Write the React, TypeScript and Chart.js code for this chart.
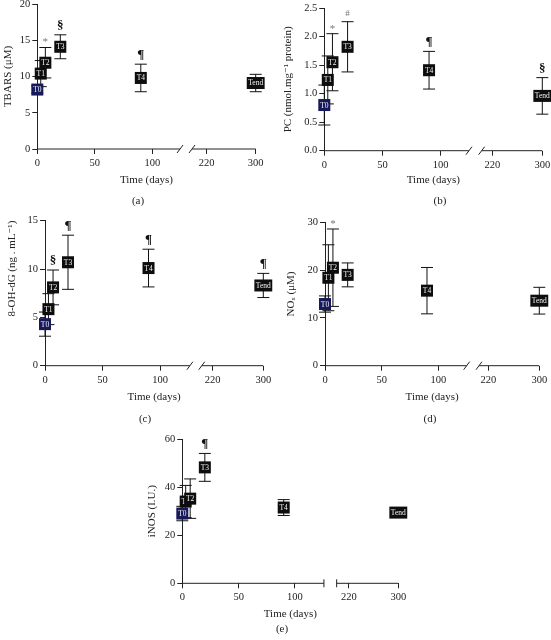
import React, { useEffect, useRef } from 'react';
import { Chart, registerables } from 'chart.js';

Chart.register(...registerables);

const timepoints = ['T0', 'T1', 'T2', 'T3', 'T4', 'Tend'];
const days = [0, 3, 7, 20, 90, 300];
const xTickDays = [0, 50, 100, 220, 300];
const xTickLabels = ['0', '50', '100', '220', '300'];

const tbarsMean = [8.2, 10.4, 11.9, 14.1, 9.8, 9.1];
const tbarsErr = [0.5, 1.8, 2.1, 1.65, 1.9, 1.2];
const tbarsMarks = ['', '', '*', '§', '¶', ''];

const pcMean = [0.8, 1.24, 1.55, 1.82, 1.41, 0.96];
const pcErr = [0.35, 0.42, 0.5, 0.44, 0.33, 0.32];
const pcMarks = ['', '', '*', '#', '¶', '§'];

const ohdgMean = [4.3, 5.85, 8.1, 10.7, 10.1, 8.3];
const ohdgErr = [1.25, 1.6, 1.8, 2.8, 1.95, 1.25];
const ohdgMarks = ['', '', '§', '¶', '¶', '¶'];

const noxMean = [12.9, 18.4, 20.5, 19.0, 15.7, 13.6];
const noxErr = [1.7, 6.9, 8.1, 2.5, 4.85, 2.8];
const noxMarks = ['', '', '*', '', '', ''];

const inosMean = [29.0, 34.0, 35.2, 48.2, 31.5, 29.4];
const inosErr = [3.0, 6.7, 8.2, 5.8, 3.3, 1.0];
const inosMarks = ['', '', '', '¶', '', ''];

const FONT = '"Liberation Serif", "Times New Roman", "DejaVu Serif", serif';
const INK = '#222';

type Panel = {
  label: string;
  yTitle: string;
  yTitleAlign: 'center' | 'end';
  mean: number[];
  err: number[];
  marks: string[];
  yMax: number;
  yStep: number;
  yDec: number;
  box: { left: number; top: number; width: number; height: number };
  area: { left: number; top: number; right: number; bottom: number };
  titleX: number;
  xTitleY: number;
  labelPos: { x: number; y: number };
  brk: { u220: number; u300: number; segEnd: number; segStart: number; style: 'slash' | 'bar' };
};

const panels: Panel[] = [
  {
    label: '(a)', yTitle: 'TBARS (μM)', yTitleAlign: 'center',
    mean: tbarsMean, err: tbarsErr, marks: tbarsMarks,
    yMax: 20, yStep: 5, yDec: 0,
    box: { left: 0, top: 0, width: 275, height: 210 },
    area: { left: 37.3, top: 4, right: 255.7, bottom: 149 },
    titleX: 8.3, xTitleY: 180, labelPos: { x: 138, y: 201 },
    brk: { u220: 147.3, u300: 189.9, segEnd: 124.1, segStart: 134.5, style: 'slash' },
  },
  {
    label: '(b)', yTitle: 'PC (nmol.mg⁻¹ protein)', yTitleAlign: 'center',
    mean: pcMean, err: pcErr, marks: pcMarks,
    yMax: 2.5, yStep: 0.5, yDec: 1,
    box: { left: 275, top: 0, width: 276, height: 210 },
    area: { left: 324.3, top: 8, right: 542.3, bottom: 150.7 },
    titleX: 288.3, xTitleY: 180, labelPos: { x: 440, y: 201 },
    brk: { u220: 144.3, u300: 187.3, segEnd: 124.3, segStart: 135.2, style: 'slash' },
  },
  {
    label: '(c)', yTitle: '8-OH-dG (ng . mL⁻¹)', yTitleAlign: 'end',
    mean: ohdgMean, err: ohdgErr, marks: ohdgMarks,
    yMax: 15, yStep: 5, yDec: 0,
    box: { left: 0, top: 210, width: 275, height: 218 },
    area: { left: 45, top: 220.7, right: 263.3, bottom: 365.7 },
    titleX: 11.7, xTitleY: 397.3, labelPos: { x: 145, y: 419 },
    brk: { u220: 145.8, u300: 189.8, segEnd: 126, segStart: 136.3, style: 'slash' },
  },
  {
    label: '(d)', yTitle: 'NOₓ (μM)', yTitleAlign: 'center',
    mean: noxMean, err: noxErr, marks: noxMarks,
    yMax: 30, yStep: 10, yDec: 0,
    box: { left: 275, top: 210, width: 276, height: 218 },
    area: { left: 325, top: 222.3, right: 539.3, bottom: 365.7 },
    titleX: 290.8, xTitleY: 397.3, labelPos: { x: 430, y: 419 },
    brk: { u220: 144.1, u300: 189.1, segEnd: 125, segStart: 135.9, style: 'slash' },
  },
  {
    label: '(e)', yTitle: 'iNOS (I.U.)', yTitleAlign: 'center',
    mean: inosMean, err: inosErr, marks: inosMarks,
    yMax: 60, yStep: 20, yDec: 0,
    box: { left: 130, top: 428, width: 290, height: 212 },
    area: { left: 182.3, top: 439, right: 398.3, bottom: 583.3 },
    titleX: 152.5, xTitleY: 614, labelPos: { x: 282, y: 629 },
    brk: { u220: 147.9, u300: 191.7, segEnd: 125.7, segStart: 137, style: 'bar' },
  },
];

function makeToU(p: Panel) {
  const k = (p.brk.u300 - p.brk.u220) / 80;
  return (d: number) => (d <= 125 ? d : p.brk.u220 + (d - 220) * k);
}

const symbolStyle: Record<string, { font: string; color: string; dy: number }> = {
  '*': { font: `11px ${FONT}`, color: '#777', dy: 5 },
  '#': { font: `9px ${FONT}`, color: '#777', dy: 8 },
  '§': { font: `bold 13px ${FONT}`, color: '#111', dy: 9 },
  '¶': { font: `bold 13px ${FONT}`, color: '#111', dy: 10 },
};

function PanelChart({ p }: { p: Panel }) {
  const ref = useRef<HTMLCanvasElement | null>(null);
  useEffect(() => {
    if (!ref.current) return;
    const toU = makeToU(p);
    const lh = 11 * 1.2;
    const padL = p.titleX - lh / 2 - p.box.left;
    const YW = p.area.left - p.box.left - padL;
    const XH = p.xTitleY + lh / 2 - p.area.bottom;
    const padT = p.area.top - p.box.top;
    const padR = p.box.left + p.box.width - p.area.right;
    const padB = p.box.top + p.box.height - p.area.bottom - XH;

    const overlay = {
      id: 'overlay',
      afterDraw(chart: any) {
        const ctx = chart.ctx as CanvasRenderingContext2D;
        const xs = chart.scales.x;
        const ys = chart.scales.y;
        ctx.save();
        // broken x axis
        const y0 = ys.getPixelForValue(0);
        const xa = xs.getPixelForValue(0);
        const xb = xs.getPixelForValue(p.brk.segEnd);
        const xc = xs.getPixelForValue(p.brk.segStart);
        const xd = xs.getPixelForValue(p.brk.u300);
        ctx.strokeStyle = INK;
        ctx.lineWidth = 1;
        ctx.beginPath();
        ctx.moveTo(xa, y0); ctx.lineTo(xb, y0);
        ctx.moveTo(xc, y0); ctx.lineTo(xd, y0);
        if (p.brk.style === 'slash') {
          [xb, xc].forEach((x) => {
            ctx.moveTo(x - 3, y0 + 4);
            ctx.lineTo(x + 3, y0 - 4);
          });
        } else {
          [xb, xc].forEach((x) => {
            ctx.moveTo(x, y0 - 4);
            ctx.lineTo(x, y0 + 4);
          });
        }
        ctx.stroke();

        // error bars
        ctx.strokeStyle = '#111';
        days.forEach((d, i) => {
          const px = xs.getPixelForValue(toU(d));
          const hi = ys.getPixelForValue(p.mean[i] + p.err[i]);
          const lo = ys.getPixelForValue(p.mean[i] - p.err[i]);
          ctx.beginPath();
          ctx.moveTo(px, hi); ctx.lineTo(px, lo);
          ctx.moveTo(px - 6, hi); ctx.lineTo(px + 6, hi);
          ctx.moveTo(px - 6, lo); ctx.lineTo(px + 6, lo);
          ctx.stroke();
        });

        // markers with labels
        ctx.font = `7.5px ${FONT}`;
        ctx.textAlign = 'center';
        ctx.textBaseline = 'middle';
        days.forEach((d, i) => {
          const px = xs.getPixelForValue(toU(d));
          const py = ys.getPixelForValue(p.mean[i]);
          const t = timepoints[i];
          const w = Math.max(12, ctx.measureText(t).width + 3);
          const h = 12;
          ctx.fillStyle = i === 0 ? '#17195a' : '#0d0d0d';
          ctx.fillRect(px - w / 2, py - h / 2, w, h);
          ctx.fillStyle = '#f2f2f2';
          ctx.fillText(t, px, py + 0.5);
        });

        // significance symbols
        days.forEach((d, i) => {
          const m = p.marks[i];
          if (!m) return;
          const st = symbolStyle[m];
          const px = xs.getPixelForValue(toU(d));
          const hi = ys.getPixelForValue(p.mean[i] + p.err[i]);
          ctx.font = st.font;
          ctx.fillStyle = st.color;
          ctx.textAlign = 'center';
          ctx.textBaseline = 'middle';
          ctx.fillText(m, px, hi - st.dy);
        });

        // panel label
        ctx.font = `11px ${FONT}`;
        ctx.fillStyle = INK;
        ctx.textAlign = 'center';
        ctx.textBaseline = 'middle';
        ctx.fillText(p.label, p.labelPos.x - p.box.left, p.labelPos.y - p.box.top);
        ctx.restore();
      },
    };

    const chart = new Chart(ref.current, {
      type: 'scatter',
      data: {
        datasets: [
          {
            data: days.map((d, i) => ({ x: toU(d), y: p.mean[i] })),
            pointRadius: 0,
            pointHoverRadius: 0,
            showLine: false,
          },
        ],
      },
      options: {
        animation: false,
        responsive: false,
        maintainAspectRatio: false,
        events: [],
        layout: { padding: { left: padL, top: padT, right: padR, bottom: padB } },
        plugins: { legend: { display: false }, tooltip: { enabled: false } },
        scales: {
          x: {
            type: 'linear',
            min: 0,
            max: p.brk.u300,
            afterBuildTicks: (s: any) => {
              s.ticks = xTickDays.map((d) => ({ value: toU(d) }));
            },
            afterFit: (s: any) => {
              s.height = XH;
              s.paddingLeft = 0;
              s.paddingRight = 0;
            },
            ticks: {
              autoSkip: false,
              maxRotation: 0,
              padding: 3,
              color: INK,
              font: { family: FONT, size: 10.5 },
              callback: (_v: any, i: number) => xTickLabels[i],
            },
            grid: { drawOnChartArea: false, drawTicks: true, tickLength: 5, color: INK },
            border: { display: false },
            title: { display: true, text: 'Time (days)', color: INK, padding: 0, font: { family: FONT, size: 11 } },
          },
          y: {
            type: 'linear',
            min: 0,
            max: p.yMax,
            afterFit: (s: any) => {
              s.width = YW;
              s.paddingTop = 0;
              s.paddingBottom = 0;
            },
            ticks: {
              stepSize: p.yStep,
              padding: 2,
              color: INK,
              font: { family: FONT, size: 10.5 },
              callback: (v: any) => Number(v).toFixed(p.yDec),
            },
            grid: { drawOnChartArea: false, drawTicks: true, tickLength: 5, color: INK },
            border: { display: true, color: INK, width: 1 },
            title: {
              display: true,
              text: p.yTitle,
              align: p.yTitleAlign,
              color: INK,
              padding: 0,
              font: { family: FONT, size: 11 },
            },
          },
        },
      },
      plugins: [overlay],
    } as any);
    return () => chart.destroy();
  }, [p]);

  return (
    <canvas
      ref={ref}
      width={p.box.width}
      height={p.box.height}
      style={{
        position: 'absolute',
        left: p.box.left,
        top: p.box.top,
        width: p.box.width,
        height: p.box.height,
      }}
    />
  );
}

export default function App() {
  return (
    <div style={{ position: 'absolute', left: 0, top: 0, width: 551, height: 640, background: '#fff' }}>
      {panels.map((p) => (
        <PanelChart key={p.label} p={p} />
      ))}
    </div>
  );
}
